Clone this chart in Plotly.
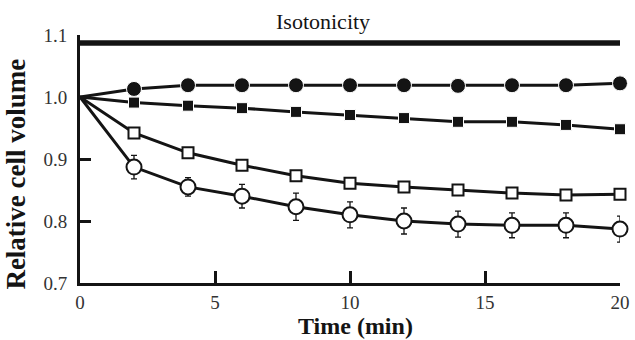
import plotly.graph_objects as go

time = [0, 2, 4, 6, 8, 10, 12, 14, 16, 18, 20]
filled_circle = [1.0, 1.013, 1.019, 1.019, 1.019, 1.019, 1.019, 1.018, 1.019, 1.019, 1.022]
filled_square = [1.0, 0.991, 0.986, 0.982, 0.976, 0.971, 0.966, 0.960, 0.960, 0.955, 0.948]
open_square = [1.0, 0.942, 0.910, 0.890, 0.873, 0.861, 0.855, 0.850, 0.845, 0.842, 0.843]
open_circle = [1.0, 0.887, 0.855, 0.840, 0.823, 0.810, 0.800, 0.795, 0.793, 0.793, 0.787]
open_circle_err = [0, 0.019, 0.015, 0.019, 0.022, 0.021, 0.021, 0.021, 0.020, 0.020, 0.021]
iso_x = [0, 20]
iso_y = [1.087, 1.087]
y_ticks = [0.7, 0.8, 0.9, 1.0, 1.1]
y_tick_labels = ["0.7", "0.8", "0.9", "1.0", "1.1"]
x_ticks = [0, 5, 10, 15, 20]

ink = "#141414"
serif = "Liberation Serif, Times New Roman, DejaVu Serif, serif"


def sizes(s):
    # no marker drawn at the t=0 starting point
    return [0 if t == 0 else s for t in time]


fig = go.Figure()
fig.add_trace(go.Scatter(x=iso_x, y=iso_y, mode="lines",
                         line=dict(color=ink, width=5.5), cliponaxis=False))
fig.add_trace(go.Scatter(x=time, y=open_circle, mode="lines+markers",
                         line=dict(color=ink, width=3),
                         error_y=dict(type="data", array=open_circle_err, color=ink,
                                      thickness=1.3, width=3),
                         marker=dict(symbol="circle", size=sizes(15), color="white", opacity=1,
                                     line=dict(color=ink, width=2)),
                         cliponaxis=False))
fig.add_trace(go.Scatter(x=time, y=open_square, mode="lines+markers",
                         line=dict(color=ink, width=3),
                         marker=dict(symbol="square", size=sizes(11), color="white", opacity=1,
                                     line=dict(color=ink, width=2)),
                         cliponaxis=False))
fig.add_trace(go.Scatter(x=time, y=filled_square, mode="lines+markers",
                         line=dict(color=ink, width=3),
                         marker=dict(symbol="square", size=sizes(11), color=ink, opacity=1),
                         cliponaxis=False))
fig.add_trace(go.Scatter(x=time, y=filled_circle, mode="lines+markers",
                         line=dict(color=ink, width=3),
                         marker=dict(symbol="circle", size=sizes(15), color=ink, opacity=1),
                         cliponaxis=False))

fig.add_annotation(x=10, y=1.087, yshift=22, xshift=-27, text="Isotonicity", showarrow=False,
                   font=dict(family=serif, size=22, color=ink))
fig.add_annotation(xref="paper", yref="paper", x=0.511, y=-0.117, xanchor="center",
                   yanchor="top", borderpad=0, text="<b>Time (min)</b>", showarrow=False,
                   font=dict(family=serif, size=24, color=ink))
fig.add_annotation(xref="paper", yref="paper", x=-0.119, y=0.44, xanchor="center",
                   yanchor="middle", textangle=-90, text="<b>Relative cell volume</b>",
                   showarrow=False, font=dict(family=serif, size=27, color=ink))

fig.update_layout(
    width=635, height=340, showlegend=False,
    margin=dict(l=80, r=15, t=35, b=57),
    plot_bgcolor="white", paper_bgcolor="white",
    font=dict(family=serif, color=ink),
)
fig.update_xaxes(range=[0, 20], tickvals=x_ticks, ticks="inside", ticklen=12,
                 tickwidth=3, tickcolor=ink, showline=True, linewidth=3, linecolor=ink,
                 showgrid=False, zeroline=False, tickfont=dict(family=serif, size=19, color="#333"),
                 ticklabelstandoff=0, automargin=False)
fig.update_yaxes(range=[0.7, 1.1], tickvals=y_ticks, ticktext=y_tick_labels, ticks="inside",
                 ticklen=11, tickwidth=3, tickcolor=ink, showline=True, linewidth=3,
                 linecolor=ink, showgrid=False, zeroline=False, automargin=False,
                 tickfont=dict(family=serif, size=19, color="#333"), ticklabelstandoff=6)
fig.write_html("out.html", config={"displayModeBar": False},
               post_script="document.body.style.margin='0';")
